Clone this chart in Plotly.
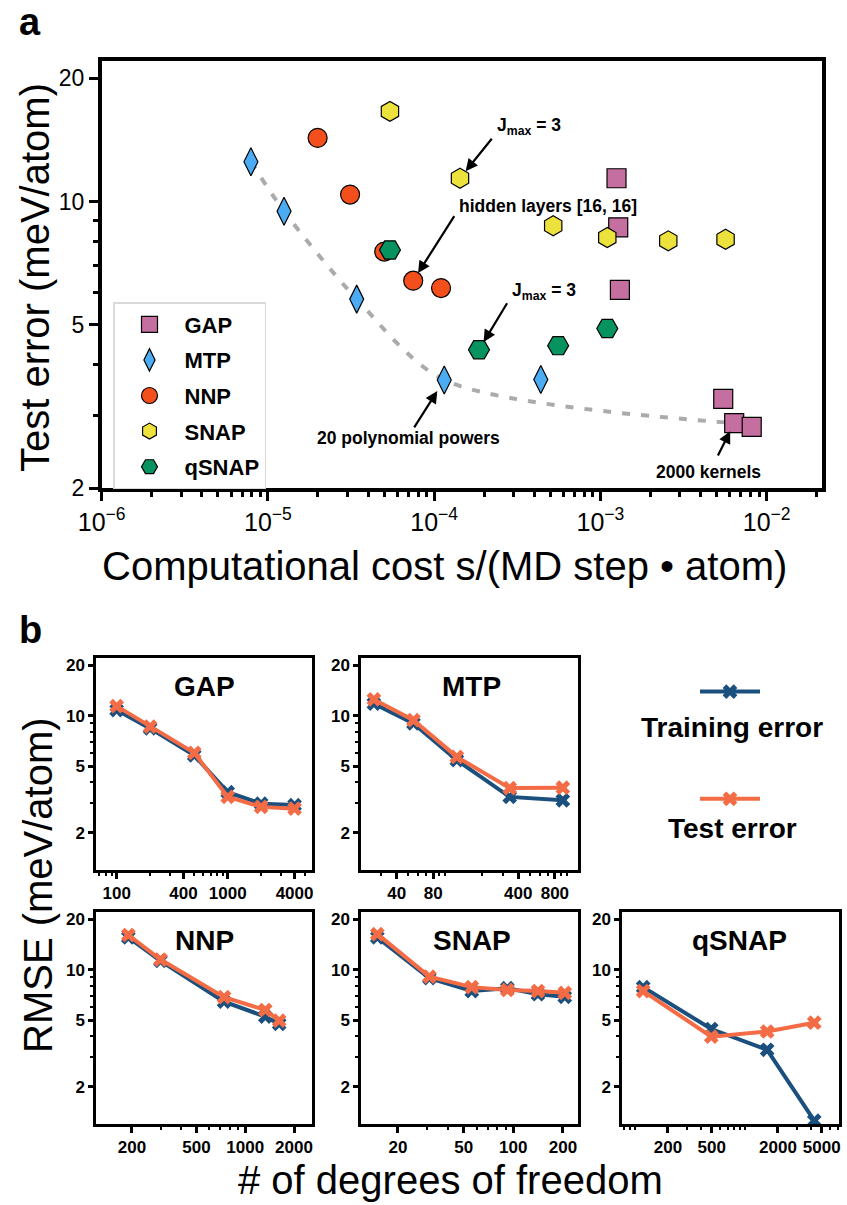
import numpy as np
import plotly.graph_objects as go

# ---------------- panel a : test error vs computational cost ----------------
gap_cost = [1.25e-3, 1.28e-3, 1.31e-3, 5.48e-3, 6.38e-3, 8.13e-3]
gap_err = [11.4, 8.65, 6.09, 3.30, 2.88, 2.82]
mtp_cost = [7.9e-6, 1.25e-5, 3.42e-5, 1.15e-4, 4.38e-4]
mtp_err = [12.5, 9.47, 5.78, 3.67, 3.68]
nnp_cost = [1.99e-5, 3.12e-5, 5.01e-5, 7.48e-5, 1.10e-4]
nnp_err = [14.3, 10.4, 7.55, 6.41, 6.15]
snap_cost = [5.42e-5, 1.43e-4, 5.20e-4, 1.10e-3, 2.56e-3, 5.66e-3]
snap_err = [16.6, 11.4, 8.73, 8.17, 8.02, 8.09]
qsnap_cost = [5.42e-5, 1.86e-4, 5.57e-4, 1.10e-3]
qsnap_err = [7.62, 4.35, 4.45, 4.90]
# Pareto front (dashed grey): MTP points then the 2000-kernel GAP point
pareto_cost = mtp_cost[:4] + [gap_cost[4]]
pareto_err = mtp_err[:4] + [gap_err[4]]

cost_ticks = [1e-6, 1e-5, 1e-4, 1e-3, 1e-2]
cost_ticktext = ["10<sup>−6</sup>", "10<sup>−5</sup>", "10<sup>−4</sup>", "10<sup>−3</sup>", "10<sup>−2</sup>"]
err_ticks = [2, 5, 10, 20]

# ---------------- panel b : RMSE vs degrees of freedom ----------------
gap_dof = [100, 200, 500, 1000, 2000, 4000]
gap_train = [10.8, 8.4, 5.8, 3.5, 2.99, 2.93]
gap_test = [11.4, 8.6, 6.0, 3.28, 2.86, 2.79]
mtp_dof = [26, 55, 125, 340, 930]
mtp_train = [11.8, 9.0, 5.43, 3.28, 3.13]
mtp_test = [12.5, 9.4, 5.68, 3.70, 3.72]
nnp_dof = [190, 300, 740, 1330, 1620]
nnp_train = [15.6, 11.3, 6.45, 5.25, 4.75]
nnp_test = [16.1, 11.5, 6.86, 5.75, 4.97]
snap_dof = [15, 31, 56, 92, 141, 205]
snap_train = [15.6, 8.9, 7.46, 7.76, 7.14, 6.89]
snap_test = [16.3, 9.1, 7.87, 7.57, 7.46, 7.28]
qsnap_dof = [119, 495, 1595, 4277]
qsnap_train = [7.87, 4.43, 3.33, 1.26]
qsnap_test = [7.46, 3.99, 4.28, 4.83]

gap_xticks = [100, 400, 1000, 4000]
mtp_xticks = [40, 80, 400, 800]
nnp_xticks = [200, 500, 1000, 2000]
snap_xticks = [20, 50, 100, 200]
qsnap_xticks = [200, 500, 2000, 5000]
rmse_ticks = [2, 5, 10, 20]
series_labels = ["Training error", "Test error"]

# ---------------- styling ----------------
W, H = 847, 1205
FONT = "Liberation Sans, Arial, Helvetica, sans-serif"
TRAIN_C = "#1B4F7E"
TEST_C = "#F36C45"


def fx(p):
    return p / W


def fy(p):
    return 1 - p / H


def log_minor(lo, hi, majors):
    out = []
    for e in range(-8, 6):
        for d in range(1, 10):
            v = d * 10.0 ** e
            if lo <= v <= hi and not any(abs(v - m) / m < 1e-9 for m in majors):
                out.append(v)
    return out


fig = go.Figure()

# ---- panel a traces ----
fig.add_trace(go.Scatter(
    x=pareto_cost, y=pareto_err, mode="lines",
    line=dict(color="#ABABAB", width=4, dash="8px,11px", shape="spline", smoothing=0.8),
    showlegend=False, hoverinfo="skip", xaxis="x", yaxis="y"))

models = [
    ("GAP", gap_cost, gap_err, "square", "#C46FA0", 19),
    ("MTP", mtp_cost, mtp_err, "diamond-tall", "#4BABF3", 20),
    ("NNP", nnp_cost, nnp_err, "circle", "#F24F1C", 19),
    ("SNAP", snap_cost, snap_err, "hexagon", "#EDE13C", 20),
    ("qSNAP", qsnap_cost, qsnap_err, "hexagon2", "#06935F", 21),
]
for name, xs, ys, sym, col, sz in models:
    fig.add_trace(go.Scatter(
        x=xs, y=ys, mode="markers", name=name,
        marker=dict(symbol=sym, color=col, size=sz, line=dict(color="black", width=1.2)),
        xaxis="x", yaxis="y", legend="legend", legendgroup=name))

# ---- panel b traces ----
panels = [
    ("GAP", gap_dof, gap_train, gap_test, gap_xticks, (96, 312), (658, 870), 0.5),
    ("MTP", mtp_dof, mtp_train, mtp_test, mtp_xticks, (361, 578), (658, 870), 0.51),
    ("NNP", nnp_dof, nnp_train, nnp_test, nnp_xticks, (96, 312), (912, 1124), 0.5),
    ("SNAP", snap_dof, snap_train, snap_test, snap_xticks, (361, 578), (912, 1124), 0.51),
    ("qSNAP", qsnap_dof, qsnap_train, qsnap_test, qsnap_xticks, (622, 839), (912, 1124), 0.54),
]
# x ranges (log10)
x_ranges = [[1.814, 3.759], [1.309, 3.093], [2.079, 3.412], [1.077, 2.392], [1.883, 3.856]]
y_range_b = [0.08, 1.344]

annotations = []
layout_axes = {}
for i, (name, dof, tr, te, xt, (x0, x1), (y0, y1), tx) in enumerate(panels):
    k = i + 2
    xa, ya = f"x{k}", f"y{k}"
    first = (i == 0)
    fig.add_trace(go.Scatter(
        x=dof, y=tr, mode="lines+markers", name=series_labels[0],
        line=dict(color=TRAIN_C, width=4),
        marker=dict(symbol="x", size=13, color=TRAIN_C, line=dict(width=0)),
        xaxis=xa, yaxis=ya, legend="legend2", showlegend=first, legendgroup="train"))
    fig.add_trace(go.Scatter(
        x=dof, y=te, mode="lines+markers", name=series_labels[1],
        line=dict(color=TEST_C, width=4),
        marker=dict(symbol="x", size=13, color=TEST_C, line=dict(width=0)),
        xaxis=xa, yaxis=ya, legend="legend2", showlegend=first, legendgroup="test"))
    xr = x_ranges[i]
    layout_axes[f"xaxis{k}"] = dict(
        type="log", range=xr, domain=[fx(x0), fx(x1)], anchor=ya, automargin=False,
        showline=True, linecolor="black", linewidth=2.5, mirror=True,
        ticks="outside", ticklen=6, tickwidth=2.5, tickcolor="black",
        tickmode="array", tickvals=xt, ticktext=[str(v) for v in xt],
        minor=dict(tickmode="array", tickvals=log_minor(10 ** xr[0], 10 ** xr[1], xt),
                   ticks="outside", ticklen=3.5, tickwidth=2, tickcolor="black"),
        tickfont=dict(family=FONT, size=17, color="black", weight="bold"),
        showgrid=False, zeroline=False)
    layout_axes[f"yaxis{k}"] = dict(
        type="log", range=y_range_b, domain=[fy(y1), fy(y0)], anchor=xa, automargin=False,
        showline=True, linecolor="black", linewidth=2.5, mirror=True,
        ticks="outside", ticklen=5, tickwidth=2.5, tickcolor="black",
        tickmode="array", tickvals=rmse_ticks, ticktext=[str(v) for v in rmse_ticks],
        minor=dict(tickmode="array", tickvals=log_minor(10 ** y_range_b[0], 10 ** y_range_b[1], rmse_ticks),
                   ticks="outside", ticklen=3, tickwidth=2, tickcolor="black"),
        tickfont=dict(family=FONT, size=17, color="black", weight="bold"),
        showgrid=False, zeroline=False)
    annotations.append(dict(
        text=f"<b>{name}</b>", xref=f"{xa} domain", yref=f"{ya} domain",
        x=tx, y=0.865, xanchor="center", yanchor="middle", showarrow=False,
        font=dict(family=FONT, size=28, color="black")))

# ---- panel a axes ----
xr_a = [-6, -1.667]
yr_a = [np.log10(2), 1.343]
layout_axes["xaxis"] = dict(
    type="log", range=xr_a, domain=[fx(101.7), fx(822)], anchor="y", automargin=False,
    showline=True, linecolor="black", linewidth=3.5, mirror=True,
    ticks="outside", ticklen=9, tickwidth=3, tickcolor="black",
    tickmode="array", tickvals=cost_ticks, ticktext=cost_ticktext,
    minor=dict(tickmode="array", tickvals=log_minor(10 ** xr_a[0], 10 ** xr_a[1], cost_ticks),
               ticks="outside", ticklen=5, tickwidth=2.5, tickcolor="black"),
    tickfont=dict(family=FONT, size=25, color="black"),
    showgrid=False, zeroline=False)
layout_axes["yaxis"] = dict(
    type="log", range=yr_a, domain=[fy(488), fy(61)], anchor="x", automargin=False,
    showline=True, linecolor="black", linewidth=3.5, mirror=True,
    ticks="outside", ticklen=9, tickwidth=3, tickcolor="black",
    tickmode="array", tickvals=err_ticks, ticktext=[str(v) for v in err_ticks],
    minor=dict(tickmode="array", tickvals=log_minor(10 ** yr_a[0], 10 ** yr_a[1], err_ticks),
               ticks="outside", ticklen=5, tickwidth=2.5, tickcolor="black"),
    tickfont=dict(family=FONT, size=23, color="black"),
    showgrid=False, zeroline=False)

# ---- panel a callouts ----
afont = dict(family=FONT, size=17.5, color="black")
callouts = [
    ("J<sub>max</sub> = 3", -3.430, 1.182, snap_cost[1], snap_err[1], 33, -41, 9),
    ("hidden layers [16, 16]", -3.316, 0.990, nnp_cost[3], nnp_err[3], 42, -66, 9),
    ("J<sub>max</sub> = 3", -3.340, 0.780, qsnap_cost[1], qsnap_err[1], 29, -48, 9),
    ("20 polynomial powers", -4.152, 0.424, mtp_cost[3], mtp_err[3], -31, 49, 13),
    ("2000 kernels", -2.347, 0.341, gap_cost[4], gap_err[4], -17, 34, 9),
]
for txt, tx, ty, hx, hy, ax, ay, so in callouts:
    annotations.append(dict(text=f"<b>{txt}</b>", xref="x", yref="y", x=tx, y=ty,
                            showarrow=False, font=afont, xanchor="center", yanchor="middle"))
    annotations.append(dict(text="", xref="x", yref="y", x=np.log10(hx), y=np.log10(hy),
                            ax=ax, ay=ay, showarrow=True, arrowhead=2, arrowsize=1.1,
                            arrowwidth=2.2, arrowcolor="black", standoff=so))

# ---- titles, panel letters, legend labels for panel b ----
tfont = dict(family=FONT, size=40, color="black")
lfont = dict(family=FONT, size=28, color="black")
annotations += [
    dict(text="<b>a</b>", xref="paper", yref="paper", x=fx(30), y=fy(22), xanchor="center",
         yanchor="middle", showarrow=False, font=dict(family=FONT, size=38, color="black")),
    dict(text="<b>b</b>", xref="paper", yref="paper", x=fx(30), y=fy(630), xanchor="center",
         yanchor="middle", showarrow=False, font=dict(family=FONT, size=38, color="black")),
    dict(text="Computational cost s/(MD step • atom)", xref="paper", yref="paper",
         x=fx(445), y=fy(566), xanchor="center", yanchor="middle", showarrow=False, font=tfont),
    dict(text="Test error (meV/atom)", xref="paper", yref="paper", x=fx(35), y=fy(278),
         xanchor="center", yanchor="middle", textangle=-90, showarrow=False, font=tfont),
    dict(text="RMSE (meV/atom)", xref="paper", yref="paper", x=fx(38), y=fy(885),
         xanchor="center", yanchor="middle", textangle=-90, showarrow=False, font=tfont),
    dict(text="# of degrees of freedom", xref="paper", yref="paper", x=fx(450), y=fy(1180),
         xanchor="center", yanchor="middle", showarrow=False, font=tfont),
    dict(text=f"<b>{series_labels[0]}</b>", xref="paper", yref="paper", x=fx(732), y=fy(727),
         xanchor="center", yanchor="middle", showarrow=False, font=lfont),
    dict(text=f"<b>{series_labels[1]}</b>", xref="paper", yref="paper", x=fx(732), y=fy(828),
         xanchor="center", yanchor="middle", showarrow=False, font=lfont),
]

# legend2 shows only the line+marker keys; their labels are the annotations above
for tr in fig.data:
    if tr.legend == "legend2" and tr.showlegend is not False:
        tr.name = " "

fig.update_layout(
    width=W, height=H, autosize=False,
    margin=dict(l=0, r=0, t=0, b=0, autoexpand=False),
    paper_bgcolor="white", plot_bgcolor="white",
    font=dict(family=FONT, color="black"),
    annotations=annotations,
    legend=dict(x=fx(113), y=fy(302), xanchor="left", yanchor="top",
                bgcolor="white", bordercolor="#DADADA", borderwidth=1.5,
                font=dict(family=FONT, size=22, color="black", weight="bold"),
                itemwidth=60, tracegroupgap=4),
    legend2=dict(x=fx(695), y=fy(676), xanchor="left", yanchor="top",
                 bgcolor="rgba(0,0,0,0)", borderwidth=0,
                 font=dict(family=FONT, size=14, color="black"),
                 itemwidth=60, tracegroupgap=86),
    **layout_axes,
)

fig.write_html("out.html")
